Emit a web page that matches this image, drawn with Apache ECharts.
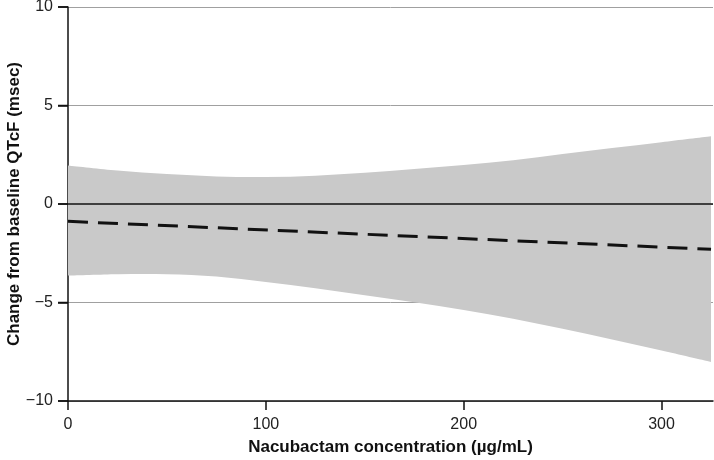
<!DOCTYPE html>
<html>
<head>
<meta charset="utf-8">
<script src="https://cdn.jsdelivr.net/npm/echarts@6/dist/echarts.min.js"></script>
<style>html,body{margin:0;padding:0;background:#fff}#c{width:714px;height:460px}</style>
</head>
<body>
<div id="c"></div>
<script>
const concentration = [0, 25, 50, 75, 100, 125, 150, 175, 200, 225, 250, 275, 300, 325];
const upperCI = [1.96, 1.70, 1.52, 1.40, 1.37, 1.44, 1.58, 1.78, 1.98, 2.22, 2.54, 2.84, 3.14, 3.44];
const lowerCI = [-3.63, -3.56, -3.56, -3.68, -3.96, -4.28, -4.63, -4.99, -5.38, -5.82, -6.33, -6.88, -7.44, -8.02];
const fitX = [0, 325];
const fitY = [-0.88, -2.30];
const xTicks = [0, 100, 200, 300];
const yTicks = [-10, -5, 0, 5, 10];

const font = 'Liberation Sans, Arial, Helvetica, sans-serif';
const chart = echarts.init(document.getElementById('c'), null, {renderer: 'canvas'});

// Catmull-Rom spline through screen points, as cubic bezier path segments
function splineSegs(p) {
  let d = '';
  for (let i = 0; i < p.length - 1; i++) {
    const p0 = p[Math.max(0, i - 1)], p1 = p[i], p2 = p[i + 1], p3 = p[Math.min(p.length - 1, i + 2)];
    const c1 = [p1[0] + (p2[0] - p0[0]) / 6, p1[1] + (p2[1] - p0[1]) / 6];
    const c2 = [p2[0] - (p3[0] - p1[0]) / 6, p2[1] - (p3[1] - p1[1]) / 6];
    d += ' C' + c1[0] + ' ' + c1[1] + ' ' + c2[0] + ' ' + c2[1] + ' ' + p2[0] + ' ' + p2[1];
  }
  return d;
}

function bandItem(params, api) {
  const up = concentration.map((x, i) => api.coord([x, upperCI[i]]));
  const lo = concentration.map((x, i) => api.coord([x, lowerCI[i]])).reverse();
  const d = 'M' + up[0][0] + ' ' + up[0][1] + splineSegs(up) +
            ' L' + lo[0][0] + ' ' + lo[0][1] + splineSegs(lo) + ' Z';
  return {
    type: 'path',
    shape: {pathData: d},
    style: {fill: '#c9c9c9', stroke: 'none'}
  };
}

// outward y-axis tick marks at each y tick value
function yTickItem(params, api) {
  const p = api.coord([0, api.value(1)]);
  return {
    type: 'line',
    shape: {x1: p[0] - 10, y1: p[1], x2: p[0], y2: p[1]},
    style: {stroke: '#111', lineWidth: 1.5}
  };
}

chart.setOption({
  animation: false,
  grid: {left: 68, right: 1, top: 7, bottom: 59, containLabel: false, outerBoundsMode: 'none'},
  xAxis: {
    type: 'value', min: 0, max: 326, interval: 100,
    name: 'Nacubactam concentration (µg/mL)', nameLocation: 'middle', nameGap: 38, nameMoveOverlap: false,
    nameTextStyle: {fontFamily: font, fontSize: 17, fontWeight: 'bold', color: '#111'},
    axisLine: {onZero: false, lineStyle: {color: '#111', width: 1.5}},
    axisTick: {show: true, length: 9, customValues: xTicks, lineStyle: {color: '#111', width: 1.5}},
    axisLabel: {fontFamily: font, fontSize: 16, color: '#222', margin: 16, customValues: xTicks,
      formatter: v => String(v)},
    splitLine: {show: false}
  },
  yAxis: {
    type: 'value', min: -10, max: 10, interval: 5,
    name: 'Change from baseline QTcF (msec)', nameLocation: 'middle', nameGap: 45, nameMoveOverlap: false,
    nameTextStyle: {fontFamily: font, fontSize: 17, fontWeight: 'bold', color: '#111'},
    axisLine: {show: true, onZero: false, lineStyle: {color: '#111', width: 1.5}},
    axisTick: {show: true, inside: false, length: 10, lineStyle: {color: '#111', width: 1.5}},
    axisLabel: {fontFamily: font, fontSize: 16, color: '#222', margin: 15,
      formatter: v => yTicks.includes(v) ? String(v).replace('-', '\u2212') : ''},
    splitLine: {show: true, lineStyle: {color: '#a0a0a0', width: 1}}
  },
  series: [
    {
      type: 'custom', silent: true, z: 1,
      renderItem: bandItem,
      data: [[0, 0]],
      encode: {x: 0, y: 1}
    },
    {
      type: 'line', symbol: 'none', silent: true, z: 4,
      lineStyle: {color: '#111', width: 1.5},
      data: [[0, 0], [326, 0]]
    },
    {
      type: 'line', symbol: 'none', silent: true, z: 5,
      lineStyle: {color: '#111', width: 3, type: [20, 10]},
      data: fitX.map((x, i) => [x, fitY[i]])
    },
    {
      type: 'custom', silent: true, z: 6, clip: false,
      renderItem: yTickItem,
      data: yTicks.map(v => [0, v]),
      encode: {x: 0, y: 1}
    }
  ]
});
</script>
</body>
</html>
